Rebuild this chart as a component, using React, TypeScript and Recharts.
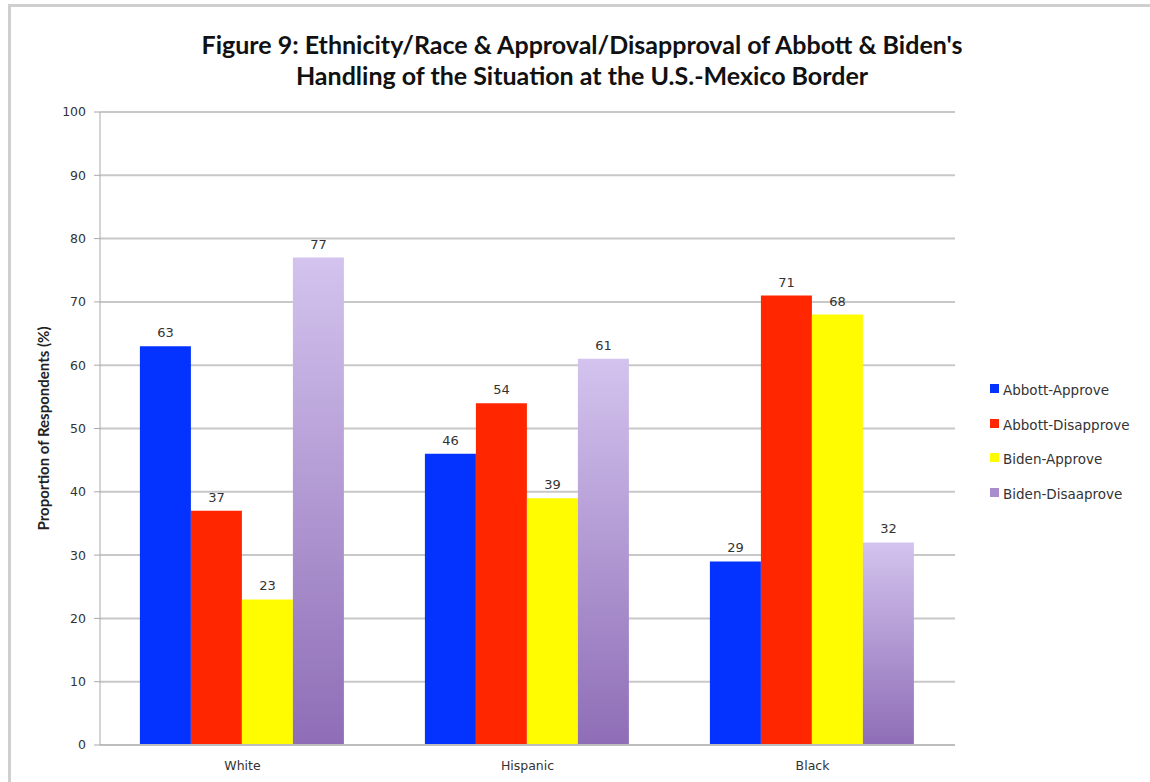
import { BarChart, Bar, XAxis, YAxis, CartesianGrid, LabelList } from "recharts";

const categories = ["White", "Hispanic", "Black"];
const abbottApprove = [63, 46, 29];
const abbottDisapprove = [37, 54, 71];
const bidenApprove = [23, 39, 68];
const bidenDisapprove = [77, 61, 32];
const yTicks = [0, 10, 20, 30, 40, 50, 60, 70, 80, 90, 100];

const SERIES = [
  { key: "abbottApprove", name: "Abbott-Approve", color: "#0433FF", fill: "#0433FF" },
  { key: "abbottDisapprove", name: "Abbott-Disapprove", color: "#FF2600", fill: "#FF2600" },
  { key: "bidenApprove", name: "Biden-Approve", color: "#FFFB00", fill: "#FFFB00" },
  { key: "bidenDisapprove", name: "Biden-Disaaprove", color: "#A98CCB", fill: "url(#purpleFade)" },
];

const data = categories.map((name, i) => ({
  name,
  abbottApprove: abbottApprove[i],
  abbottDisapprove: abbottDisapprove[i],
  bidenApprove: bidenApprove[i],
  bidenDisapprove: bidenDisapprove[i],
}));

const TEXT = "#333333";
const SMALL_FONT = "'DejaVu Sans', Verdana, sans-serif";
const TITLE_FONT = "Lato, 'Open Sans', sans-serif";

function LegendBox() {
  return (
    <div
      style={{
        position: "absolute",
        left: 990,
        top: 373,
        fontFamily: SMALL_FONT,
        fontSize: 13.5,
        color: TEXT,
      }}
    >
      {SERIES.map((s) => (
        <div key={s.key} style={{ display: "flex", alignItems: "center", height: 34.5 }}>
          <span
            style={{
              display: "inline-block",
              width: 9,
              height: 9,
              background: s.color,
              marginRight: 4,
              marginTop: -3,
            }}
          />
          {s.name}
        </div>
      ))}
    </div>
  );
}

export default function App() {
  return (
    <div
      style={{
        position: "absolute",
        left: 0,
        top: 0,
        width: 1150,
        height: 782,
        background: "#fff",
      }}
    >
      <div
        style={{
          position: "absolute",
          left: 8,
          top: 4,
          width: 1142,
          height: 778,
          borderLeft: "3px solid #cfcfcf",
          borderTop: "3px solid #cfcfcf",
          boxSizing: "border-box",
        }}
      />
      <div
        style={{
          position: "absolute",
          left: 100,
          width: 964,
          top: 29,
          textAlign: "center",
          fontFamily: TITLE_FONT,
          fontWeight: 700,
          fontSize: 25,
          lineHeight: "31px",
          color: "#111",
        }}
      >
        Figure 9: Ethnicity/Race &amp; Approval/Disapproval of Abbott &amp; Biden's
        <br />
        Handling of the Situation at the U.S.-Mexico Border
      </div>
      <BarChart
        width={1150}
        height={782}
        data={data}
        margin={{ top: 112, right: 195, left: 40, bottom: 7 }}
        barCategoryGap="14%"
        barGap={0}
        style={{ position: "absolute", left: 0, top: 0 }}
      >
        <defs>
          <linearGradient id="purpleFade" x1="0" y1="0" x2="0" y2="1">
            <stop offset="0%" stopColor="#D3C3EE" />
            <stop offset="100%" stopColor="#8E6DB6" />
          </linearGradient>
        </defs>
        <CartesianGrid vertical={false} stroke="#c8c8c8" strokeWidth={2} />
        <XAxis
          dataKey="name"
          tickLine={false}
          stroke="#bdbdbd"
          strokeWidth={2}
          tick={{ fontSize: 12.5, fill: TEXT, fontFamily: SMALL_FONT }}
          tickMargin={10}
        />
        <YAxis
          width={60}
          domain={[0, 100]}
          ticks={yTicks}
          stroke="#a8a8a8"
          tickSize={6}
          tick={{ fontSize: 12.5, fill: TEXT, fontFamily: SMALL_FONT }}
          tickMargin={8}
          label={{
            value: "Proportion of Respondents (%)",
            angle: -90,
            position: "insideLeft",
            offset: 4,
            style: {
              fontSize: 15,
              fontWeight: 700,
              fill: "#222",
              fontFamily: TITLE_FONT,
              textAnchor: "middle",
            },
          }}
        />
        {SERIES.map((s) => (
          <Bar
            key={s.key}
            dataKey={s.key}
            name={s.name}
            fill={s.fill}
            isAnimationActive={false}
          >
            <LabelList
              dataKey={s.key}
              position="top"
              offset={9}
              style={{ fontSize: 13, fill: TEXT, fontFamily: SMALL_FONT }}
            />
          </Bar>
        ))}
      </BarChart>
      <LegendBox />
    </div>
  );
}
